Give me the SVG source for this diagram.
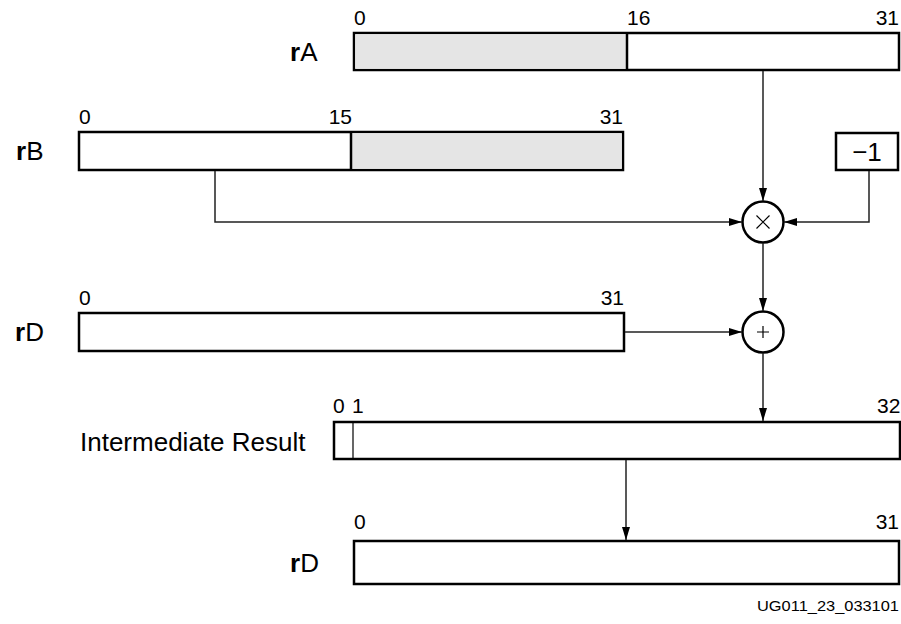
<svg xmlns="http://www.w3.org/2000/svg" width="901" height="624" viewBox="0 0 901 624">
<defs>
<style>
.box{fill:#fff;stroke:#000;stroke-width:2.5}
.gray{fill:#e5e5e5;stroke:none}
.div{stroke:#000;stroke-width:2.5}
.thin{stroke:#000;stroke-width:1.2}
.num{font-family:"Liberation Sans",Arial,sans-serif;font-size:21px;fill:#000}
.lbl{font-family:"Liberation Sans",Arial,sans-serif;font-size:26px;fill:#000}
.b{font-weight:bold}
.wire{fill:none;stroke:#222;stroke-width:1.5}
.op{fill:#fff;stroke:#000;stroke-width:2.5}
.sym{stroke:#000;stroke-width:1.2;fill:none}
</style>
<marker id="arr" markerWidth="13" markerHeight="8" refX="13" refY="4" orient="auto" markerUnits="userSpaceOnUse">
<path d="M0,0 L13,4 L0,8 Z" fill="#000"/>
</marker>
</defs>
<rect width="901" height="624" fill="#fff"/>

<g id="rA">
<rect x="354" y="33" width="545" height="37" class="box"/>
<rect x="355.2" y="34.2" width="271.5" height="34.6" class="gray"/>
<line x1="627" y1="33" x2="627" y2="70" class="div"/>
<text x="290" y="61" class="lbl"><tspan class="b">r</tspan>A</text>
<text x="354" y="25" class="num">0</text>
<text x="627" y="25" class="num">16</text>
<text x="899" y="25" class="num" text-anchor="end">31</text>
</g>

<g id="rB">
<rect x="79" y="132" width="544" height="38" class="box"/>
<rect x="351" y="133.2" width="270.8" height="35.6" class="gray"/>
<line x1="351" y1="132" x2="351" y2="170" class="div"/>
<text x="16" y="160" class="lbl"><tspan class="b">r</tspan>B</text>
<text x="79" y="124" class="num">0</text>
<text x="352" y="124" class="num" text-anchor="end">15</text>
<text x="623" y="124" class="num" text-anchor="end">31</text>
</g>

<g id="minus1">
<rect x="836" y="133" width="62" height="37" class="box"/>
<text x="867" y="161" class="lbl" font-size="24" text-anchor="middle">−1</text>
</g>

<g id="mul">
<circle cx="763" cy="222" r="20.5" class="op"/>
<path d="M756.5,215.5 L769.5,228.5 M769.5,215.5 L756.5,228.5" class="sym"/>
</g>

<g id="rD1">
<rect x="79" y="313" width="545" height="38" class="box"/>
<text x="15" y="341" class="lbl"><tspan class="b">r</tspan>D</text>
<text x="79" y="305" class="num">0</text>
<text x="624" y="305" class="num" text-anchor="end">31</text>
</g>

<g id="add">
<circle cx="763" cy="332" r="20.5" class="op"/>
<path d="M763,326 L763,338 M757,332 L769,332" class="sym"/>
</g>

<g id="intermediate">
<rect x="334" y="422" width="566" height="37" class="box"/>
<line x1="353" y1="422" x2="353" y2="459" class="thin"/>
<text x="80" y="451" class="lbl">Intermediate Result</text>
<text x="333" y="413" class="num">0</text>
<text x="352" y="413" class="num">1</text>
<text x="877" y="413" class="num">32</text>
</g>

<g id="rD2">
<rect x="354" y="541" width="545" height="43" class="box"/>
<text x="290" y="572" class="lbl"><tspan class="b">r</tspan>D</text>
<text x="354" y="529" class="num">0</text>
<text x="899" y="529" class="num" text-anchor="end">31</text>
</g>

<g id="connectors">
<line x1="763" y1="71" x2="763" y2="201" class="wire" marker-end="url(#arr)"/>
<polyline points="215,171 215,222 742,222" class="wire" marker-end="url(#arr)"/>
<polyline points="869,171 869,222 784,222" class="wire" marker-end="url(#arr)"/>
<line x1="763" y1="243" x2="763" y2="311" class="wire" marker-end="url(#arr)"/>
<line x1="625" y1="332" x2="742" y2="332" class="wire" marker-end="url(#arr)"/>
<line x1="763" y1="353" x2="763" y2="421" class="wire" marker-end="url(#arr)"/>
<line x1="626" y1="460" x2="626" y2="540" class="wire" marker-end="url(#arr)"/>
</g>

<text x="899" y="611" font-family="Liberation Sans, Arial, sans-serif" font-size="14" text-anchor="end" textLength="142" lengthAdjust="spacingAndGlyphs">UG011_23_033101</text>
</svg>
